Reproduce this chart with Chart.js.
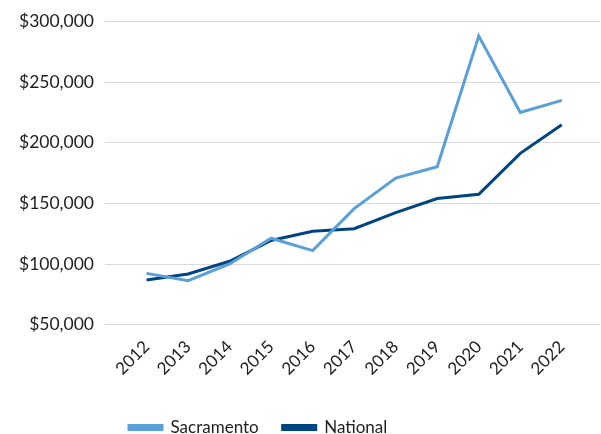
<!DOCTYPE html>
<html>
<head>
<meta charset="utf-8">
<script src="https://cdn.jsdelivr.net/npm/chart.js@4.4.1/dist/chart.umd.min.js"></script>
<style>
  html, body { margin: 0; padding: 0; background: #fff; }
  #wrap { width: 601px; height: 434px; }
</style>
</head>
<body>
<div id="wrap"><canvas id="myGraph"></canvas></div>
<script>
// Years on x axis
var years = [2012, 2013, 2014, 2015, 2016, 2017, 2018, 2019, 2020, 2021, 2022];

// Median values
var sacramento = [92300, 86300, 100100, 121300, 111100, 145700, 170900, 180200, 288000, 225000, 235000];
var national = [86800, 91800, 102300, 119400, 127100, 129100, 142400, 154000, 157600, 191300, 214800];

// Y axis ticks
var yTicks = [50000, 100000, 150000, 200000, 250000, 300000];

// Pair years with values
var toPoints = (values) => years.map((y, i) => ({ x: y, y: values[i] }));

// Nudge legend so it sits where the original one does
var legendShift = {
    id: 'legendShift',
    beforeDraw: (chart) => {
        var lg = chart.legend;
        var w = lg.right - lg.left;
        var h = lg.bottom - lg.top;
        lg.left = 129 - lg.options.labels.padding;
        lg.right = lg.left + w;
        lg.top = lg.top + 12;
        lg.bottom = lg.top + h;
    }
};

Chart.defaults.font.family = 'Lato';
Chart.defaults.font.size = 17;
Chart.defaults.color = '#1e1e1e';

var ctx = document.getElementById('myGraph').getContext('2d');

var chart = new Chart(ctx, {
    type: 'line',
    data: {
        datasets: [
            {
                label: 'Sacramento',
                data: toPoints(sacramento),
                borderColor: '#5b9fd8',
                backgroundColor: '#5b9fd8',
                borderWidth: 3,
                pointRadius: 0,
                fill: false,
                lineTension: 0
            },
            {
                label: 'National',
                data: toPoints(national),
                borderColor: '#00457f',
                backgroundColor: '#00457f',
                borderWidth: 3,
                pointRadius: 0,
                fill: false,
                lineTension: 0
            }
        ]
    },
    options: {
        responsive: true,
        maintainAspectRatio: false,
        animation: false,
        layout: { padding: { top: 12, right: 1, left: 8, bottom: 0 } },
        plugins: {
            tooltip: { enabled: false },
            legend: {
                position: 'bottom',
                align: 'start',
                labels: {
                    boxWidth: 33,
                    boxHeight: 4,
                    padding: 24,
                    font: { size: 17 }
                }
            }
        },
        scales: {
            x: {
                type: 'linear',
                min: 2011,
                max: 2022.92,
                grid: { display: false },
                border: { display: false },
                afterBuildTicks: (scale) => {
                    scale.ticks = years.map(v => ({ value: v }));
                },
                ticks: {
                    minRotation: 45,
                    maxRotation: 45,
                    padding: 4,
                    callback: (v) => String(v)
                }
            },
            y: {
                min: 50000,
                max: 300000,
                grid: { color: '#d9d9d9', lineWidth: 1, drawTicks: false },
                border: { display: false },
                afterBuildTicks: (scale) => {
                    scale.ticks = yTicks.map(v => ({ value: v }));
                },
                ticks: {
                    padding: 11,
                    font: { size: 17.5 },
                    callback: (v) => '$' + v.toLocaleString('en-US')
                }
            }
        }
    },
    plugins: [legendShift]
});
</script>
</body>
</html>
